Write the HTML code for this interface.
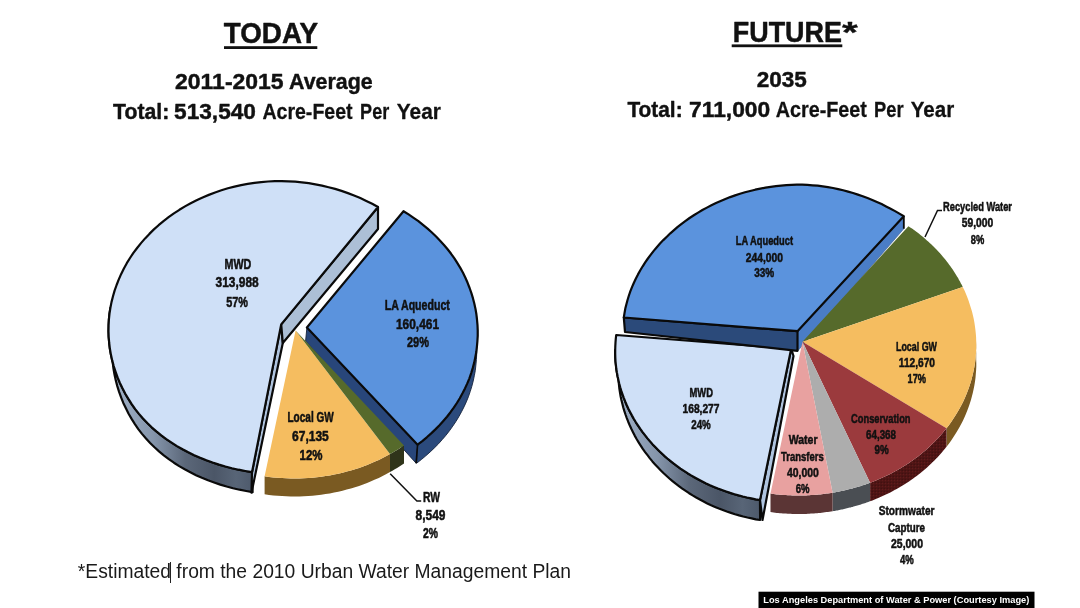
<!DOCTYPE html>
<html><head><meta charset="utf-8"><title>LA Water Supply: Today vs Future</title>
<style>
html,body{margin:0;padding:0;background:#fff;}
body{width:1080px;height:608px;overflow:hidden;}
svg{display:block;font-family:"Liberation Sans",sans-serif;}
</style></head><body>
<svg width="1080" height="608" viewBox="0 0 1080 608">
<rect width="1080" height="608" fill="#fff"/>
<defs>
<linearGradient id="gw1" gradientUnits="userSpaceOnUse" x1="110" y1="0" x2="255" y2="0"><stop offset="0" stop-color="#a3b4ca"/><stop offset="0.3" stop-color="#8595ab"/><stop offset="0.52" stop-color="#5b6779"/><stop offset="0.72" stop-color="#4b5667"/><stop offset="0.87" stop-color="#586577"/><stop offset="1" stop-color="#4c586a"/></linearGradient>
<linearGradient id="gw2" gradientUnits="userSpaceOnUse" x1="612" y1="0" x2="762" y2="0"><stop offset="0" stop-color="#a3b4ca"/><stop offset="0.3" stop-color="#8595ab"/><stop offset="0.52" stop-color="#5b6779"/><stop offset="0.72" stop-color="#4b5667"/><stop offset="0.87" stop-color="#586577"/><stop offset="1" stop-color="#4c586a"/></linearGradient>
<pattern id="dots" width="3" height="3" patternUnits="userSpaceOnUse"><rect width="3" height="3" fill="#501515"/><rect x="0" y="0" width="1" height="1" fill="#601b1b"/><rect x="1.6" y="1.7" width="1.1" height="1.1" fill="#360c0c"/></pattern>
</defs>
<path d="M306.9 327.5 L417.6 444.7 L416.1 463.2 L305.6 341.0Z" fill="#28467a" stroke="#16243c" stroke-width="0.9" stroke-linejoin="round"/>
<path d="M264.6 476.3 L269.0 476.9 L273.3 477.4 L277.6 477.8 L282.0 478.1 L286.4 478.3 L290.7 478.5 L295.1 478.5 L299.5 478.4 L303.8 478.3 L308.2 478.0 L312.5 477.7 L316.9 477.3 L321.2 476.7 L325.5 476.1 L329.8 475.4 L334.1 474.6 L338.3 473.7 L342.5 472.7 L346.7 471.6 L350.9 470.5 L355.0 469.2 L359.1 467.9 L363.1 466.4 L367.1 464.9 L371.1 463.3 L375.0 461.6 L378.8 459.9 L382.6 458.0 L386.4 456.1 L390.0 454.1 L390.0 472.1 L386.4 474.1 L382.6 476.0 L378.8 477.9 L375.0 479.6 L371.1 481.3 L367.1 482.9 L363.1 484.4 L359.1 485.9 L355.0 487.2 L350.9 488.5 L346.7 489.6 L342.5 490.7 L338.3 491.7 L334.1 492.6 L329.8 493.4 L325.5 494.1 L321.2 494.7 L316.9 495.3 L312.5 495.7 L308.2 496.0 L303.8 496.3 L299.5 496.4 L295.1 496.5 L290.7 496.5 L286.4 496.3 L282.0 496.1 L277.6 495.8 L273.3 495.4 L269.0 494.9 L264.6 494.3Z" fill="#7a5a22"/>
<path d="M390.0 454.1 L392.4 452.7 L394.8 451.3 L397.1 449.9 L399.4 448.4 L401.7 446.9 L404.0 445.4 L404.0 463.4 L401.7 464.9 L399.4 466.4 L397.1 467.9 L394.8 469.3 L392.4 470.7 L390.0 472.1Z" fill="#2f341a"/>
<path d="M295.6 330.6 L264.6 476.3 L269.0 476.9 L273.3 477.4 L277.6 477.8 L282.0 478.1 L286.4 478.3 L290.7 478.5 L295.1 478.5 L299.5 478.4 L303.8 478.3 L308.2 478.0 L312.5 477.7 L316.9 477.3 L321.2 476.7 L325.5 476.1 L329.8 475.4 L334.1 474.6 L338.3 473.7 L342.5 472.7 L346.7 471.6 L350.9 470.5 L355.0 469.2 L359.1 467.9 L363.1 466.4 L367.1 464.9 L371.1 463.3 L375.0 461.6 L378.8 459.9 L382.6 458.0 L386.4 456.1 L390.0 454.1Z" fill="#f5bd60"/>
<path d="M295.6 330.6 L390.0 454.1 L392.4 452.7 L394.8 451.3 L397.1 449.9 L399.4 448.4 L401.7 446.9 L404.0 445.4Z" fill="#566a2b"/>
<path d="M476.4 314.3 L477.0 319.7 L477.5 325.1 L477.7 330.4 L477.7 335.8 L477.4 341.2 L476.9 346.6 L476.3 352.0 L475.3 357.3 L474.2 362.6 L472.8 367.9 L471.2 373.1 L469.4 378.3 L467.3 383.4 L465.0 388.4 L462.5 393.3 L459.8 398.2 L456.9 403.0 L453.8 407.6 L450.5 412.2 L447.0 416.7 L443.3 421.0 L439.5 425.3 L435.4 429.4 L431.2 433.4 L426.8 437.3 L422.3 441.1 L417.6 444.7 L416.6 463.2 L421.3 459.6 L425.8 455.8 L430.2 451.9 L434.4 447.9 L438.5 443.8 L442.3 439.5 L446.0 435.2 L449.5 430.7 L452.8 426.1 L455.9 421.5 L458.8 416.7 L461.5 411.8 L464.0 406.9 L466.3 401.9 L468.4 396.8 L470.2 391.6 L471.8 386.4 L473.2 381.1 L474.3 375.8 L475.3 370.5 L475.9 365.1 L476.4 359.7 L476.7 354.3 L476.7 348.9 L476.5 343.6 L476.0 338.2 L475.4 332.8Z" fill="#2b4a7c" stroke="#16243c" stroke-width="0.9" stroke-linejoin="round"/>
<path d="M417.6 444.7 l-1.5 18.5" stroke="#0a0a0a" stroke-width="1.6" fill="none"/>
<path d="M306.9 327.5 L403.5 211.2 L408.6 214.4 L413.6 217.8 L418.4 221.2 L423.0 224.9 L427.6 228.6 L431.9 232.5 L436.1 236.5 L440.1 240.7 L444.0 245.0 L447.6 249.3 L451.1 253.8 L454.4 258.4 L457.4 263.2 L460.3 267.9 L463.0 272.8 L465.4 277.8 L467.6 282.8 L469.6 288.0 L471.4 293.1 L473.0 298.4 L474.3 303.6 L475.5 309.0 L476.4 314.3 L477.0 319.7 L477.5 325.1 L477.7 330.4 L477.7 335.8 L477.4 341.2 L476.9 346.6 L476.3 352.0 L475.3 357.3 L474.2 362.6 L472.8 367.9 L471.2 373.1 L469.4 378.3 L467.3 383.4 L465.0 388.4 L462.5 393.3 L459.8 398.2 L456.9 403.0 L453.8 407.6 L450.5 412.2 L447.0 416.7 L443.3 421.0 L439.5 425.3 L435.4 429.4 L431.2 433.4 L426.8 437.3 L422.3 441.1 L417.6 444.7Z" fill="#5b93dd" stroke="#0a0a0a" stroke-width="2.2" stroke-linejoin="round"/>
<path d="M110.4 307.8 L109.5 313.7 L108.9 319.5 L108.6 325.4 L108.5 331.3 L108.7 337.1 L109.2 343.0 L109.9 348.8 L110.9 354.6 L112.2 360.4 L113.7 366.1 L115.6 371.8 L117.6 377.4 L119.9 382.9 L122.5 388.3 L125.3 393.7 L128.4 398.9 L131.7 404.1 L135.2 409.1 L139.0 413.9 L143.0 418.5 L147.3 423.0 L151.7 427.3 L156.4 431.4 L161.3 435.4 L166.3 439.2 L171.6 442.7 L177.0 446.1 L182.6 449.3 L188.3 452.3 L194.2 455.2 L200.2 457.8 L206.4 460.3 L212.6 462.5 L219.0 464.6 L225.4 466.5 L232.0 468.2 L238.6 469.7 L245.3 471.0 L252.0 472.2 L252.6 492.2 L246.1 491.0 L239.5 489.7 L233.0 488.2 L226.6 486.5 L220.3 484.6 L214.1 482.5 L208.0 480.3 L201.9 477.8 L196.0 475.2 L190.3 472.3 L184.7 469.3 L179.2 466.1 L173.9 462.7 L168.8 459.2 L163.8 455.4 L159.0 451.4 L154.5 447.3 L150.1 443.0 L146.0 438.5 L142.0 433.9 L138.3 429.1 L134.9 424.1 L131.6 418.9 L128.6 413.7 L125.9 408.3 L123.3 402.9 L121.1 397.4 L119.1 391.8 L117.3 386.1 L115.8 380.4 L114.5 374.6 L113.5 368.8 L112.8 363.0 L112.4 357.1 L112.2 351.3 L112.2 345.4 L112.6 339.5 L113.2 333.7 L114.0 327.8Z" fill="url(#gw1)" stroke="#0a0a0a" stroke-width="2.2" stroke-linejoin="round"/>
<path d="M281.2 324.4 L282.8 343.0 L251.5 492.7 L252.0 472.2Z" fill="#afc4df" stroke="#0a0a0a" stroke-width="2.2" stroke-linejoin="round"/>
<path d="M281.2 324.4 L378.0 207.0 L378.0 229.0 L282.8 343.0Z" fill="#acbfd6" stroke="#0a0a0a" stroke-width="2.2" stroke-linejoin="round"/>
<path d="M281.2 324.4 L378.0 207.0 L372.2 203.8 L366.3 200.9 L360.3 198.1 L354.1 195.5 L347.9 193.1 L341.5 190.9 L335.1 188.9 L328.6 187.2 L322.0 185.6 L315.4 184.3 L308.7 183.2 L301.9 182.3 L295.2 181.7 L288.4 181.3 L281.6 181.1 L274.8 181.2 L268.0 181.5 L261.2 182.1 L254.5 182.8 L247.7 183.9 L241.1 185.1 L234.5 186.6 L227.9 188.3 L221.4 190.3 L215.1 192.5 L208.8 194.9 L202.6 197.4 L196.6 200.2 L190.7 203.2 L185.0 206.4 L179.4 209.8 L173.9 213.4 L168.6 217.2 L163.5 221.1 L158.6 225.2 L153.9 229.4 L149.4 233.9 L145.1 238.4 L141.0 243.1 L137.1 248.0 L133.4 252.9 L130.0 258.0 L126.8 263.2 L123.9 268.5 L121.2 273.9 L118.8 279.4 L116.6 285.0 L114.6 290.6 L113.0 296.3 L111.5 302.1 L110.4 307.8 L109.5 313.7 L108.9 319.5 L108.6 325.4 L108.5 331.3 L108.7 337.1 L109.2 343.0 L109.9 348.8 L110.9 354.6 L112.2 360.4 L113.7 366.1 L115.6 371.8 L117.6 377.4 L119.9 382.9 L122.5 388.3 L125.3 393.7 L128.4 398.9 L131.7 404.1 L135.2 409.1 L139.0 413.9 L143.0 418.5 L147.3 423.0 L151.7 427.3 L156.4 431.4 L161.3 435.4 L166.3 439.2 L171.6 442.7 L177.0 446.1 L182.6 449.3 L188.3 452.3 L194.2 455.2 L200.2 457.8 L206.4 460.3 L212.6 462.5 L219.0 464.6 L225.4 466.5 L232.0 468.2 L238.6 469.7 L245.3 471.0 L252.0 472.2Z" fill="#cfe0f7" stroke="#0a0a0a" stroke-width="2.2" stroke-linejoin="round"/>
<path d="M390.2 473.7 L416.9 501 L421.2 501" fill="none" stroke="#111" stroke-width="1.5"/>
<path d="M797.5 331.2 L903.8 216.2 L903.8 228.8 L797.5 351.2Z" fill="#4a7dc6" stroke="#35588e" stroke-width="0.6"/>
<path d="M976.2 340.9 L976.3 344.6 L976.3 348.3 L976.1 351.9 L975.8 355.6 L975.5 359.3 L975.0 363.0 L974.4 366.7 L973.7 370.3 L972.9 374.0 L972.0 377.6 L971.0 381.2 L969.9 384.7 L968.7 388.3 L967.4 391.8 L966.0 395.3 L964.5 398.8 L962.9 402.2 L961.2 405.6 L959.3 409.0 L957.4 412.3 L955.4 415.6 L953.3 418.8 L951.2 422.0 L948.9 425.2 L946.5 428.3 L946.5 446.8 L948.9 443.7 L951.2 440.5 L953.3 437.3 L955.4 434.1 L957.4 430.8 L959.3 427.5 L961.2 424.1 L962.9 420.7 L964.5 417.3 L966.0 413.8 L967.4 410.3 L968.7 406.8 L969.9 403.2 L971.0 399.7 L972.0 396.1 L972.9 392.5 L973.7 388.8 L974.4 385.2 L975.0 381.5 L975.5 377.8 L975.8 374.1 L976.1 370.4 L976.3 366.8 L976.3 363.1 L976.2 359.4Z" fill="#7a5a22"/>
<path d="M946.5 428.3 L945.1 430.1 L943.6 431.8 L942.2 433.6 L940.7 435.3 L939.1 437.0 L937.6 438.7 L936.0 440.3 L934.4 442.0 L932.7 443.6 L931.0 445.2 L929.3 446.8 L927.6 448.4 L925.9 449.9 L924.1 451.5 L922.3 453.0 L920.5 454.5 L918.6 455.9 L916.7 457.4 L914.8 458.8 L912.9 460.2 L911.0 461.5 L909.0 462.9 L907.0 464.2 L905.0 465.5 L903.0 466.8 L900.9 468.0 L898.8 469.2 L896.7 470.4 L894.6 471.6 L892.5 472.7 L890.3 473.9 L888.1 475.0 L885.9 476.0 L883.7 477.1 L881.5 478.1 L879.3 479.1 L877.0 480.0 L874.7 481.0 L872.4 481.9 L870.1 482.7 L870.1 501.2 L872.4 500.4 L874.7 499.5 L877.0 498.5 L879.3 497.6 L881.5 496.6 L883.7 495.6 L885.9 494.5 L888.1 493.5 L890.3 492.4 L892.5 491.2 L894.6 490.1 L896.7 488.9 L898.8 487.7 L900.9 486.5 L903.0 485.3 L905.0 484.0 L907.0 482.7 L909.0 481.4 L911.0 480.0 L912.9 478.7 L914.8 477.3 L916.7 475.9 L918.6 474.4 L920.5 473.0 L922.3 471.5 L924.1 470.0 L925.9 468.4 L927.6 466.9 L929.3 465.3 L931.0 463.7 L932.7 462.1 L934.4 460.5 L936.0 458.8 L937.6 457.2 L939.1 455.5 L940.7 453.8 L942.2 452.1 L943.6 450.3 L945.1 448.6 L946.5 446.8Z" fill="url(#dots)"/>
<path d="M870.1 482.7 L869.2 483.1 L868.3 483.4 L867.4 483.7 L866.5 484.1 L865.6 484.4 L864.7 484.7 L863.8 485.0 L862.8 485.3 L861.9 485.6 L861.0 485.9 L860.1 486.2 L859.1 486.5 L858.2 486.8 L857.3 487.0 L856.4 487.3 L855.4 487.6 L854.5 487.8 L853.5 488.1 L852.6 488.4 L851.7 488.6 L850.7 488.9 L849.8 489.1 L848.8 489.3 L847.9 489.6 L846.9 489.8 L846.0 490.0 L845.0 490.3 L844.1 490.5 L843.1 490.7 L842.2 490.9 L841.2 491.1 L840.3 491.3 L839.3 491.5 L838.3 491.7 L837.4 491.9 L836.4 492.0 L835.5 492.2 L834.5 492.4 L833.5 492.6 L832.6 492.7 L832.6 511.2 L833.5 511.1 L834.5 510.9 L835.5 510.7 L836.4 510.5 L837.4 510.4 L838.3 510.2 L839.3 510.0 L840.3 509.8 L841.2 509.6 L842.2 509.4 L843.1 509.2 L844.1 509.0 L845.0 508.8 L846.0 508.5 L846.9 508.3 L847.9 508.1 L848.8 507.8 L849.8 507.6 L850.7 507.4 L851.7 507.1 L852.6 506.9 L853.5 506.6 L854.5 506.3 L855.4 506.1 L856.4 505.8 L857.3 505.5 L858.2 505.3 L859.1 505.0 L860.1 504.7 L861.0 504.4 L861.9 504.1 L862.8 503.8 L863.8 503.5 L864.7 503.2 L865.6 502.9 L866.5 502.6 L867.4 502.2 L868.3 501.9 L869.2 501.6 L870.1 501.2Z" fill="#4a4e53"/>
<path d="M832.6 492.7 L831.0 493.0 L829.5 493.2 L827.9 493.4 L826.4 493.6 L824.9 493.8 L823.3 494.0 L821.8 494.2 L820.2 494.4 L818.7 494.5 L817.1 494.7 L815.6 494.8 L814.0 494.9 L812.5 495.0 L810.9 495.1 L809.4 495.2 L807.8 495.3 L806.3 495.4 L804.7 495.4 L803.1 495.5 L801.6 495.5 L800.0 495.5 L798.5 495.5 L796.9 495.5 L795.3 495.5 L793.8 495.4 L792.2 495.4 L790.7 495.3 L789.1 495.3 L787.6 495.2 L786.0 495.1 L784.5 495.0 L782.9 494.9 L781.3 494.8 L779.8 494.7 L778.2 494.5 L776.7 494.4 L775.2 494.2 L773.6 494.0 L772.1 493.8 L770.5 493.6 L770.5 512.1 L772.1 512.3 L773.6 512.5 L775.2 512.7 L776.7 512.9 L778.2 513.0 L779.8 513.2 L781.3 513.3 L782.9 513.4 L784.5 513.5 L786.0 513.6 L787.6 513.7 L789.1 513.8 L790.7 513.8 L792.2 513.9 L793.8 513.9 L795.3 514.0 L796.9 514.0 L798.5 514.0 L800.0 514.0 L801.6 514.0 L803.1 514.0 L804.7 513.9 L806.3 513.9 L807.8 513.8 L809.4 513.7 L810.9 513.6 L812.5 513.5 L814.0 513.4 L815.6 513.3 L817.1 513.2 L818.7 513.0 L820.2 512.9 L821.8 512.7 L823.3 512.5 L824.9 512.3 L826.4 512.1 L827.9 511.9 L829.5 511.7 L831.0 511.5 L832.6 511.2Z" fill="#5b3535"/>
<path d="M802.5 341.7 L908.4 226.2 L910.2 227.4 L912.0 228.6 L913.7 229.8 L915.4 231.1 L917.1 232.3 L918.8 233.6 L920.5 235.0 L922.1 236.3 L923.7 237.6 L925.3 239.0 L926.9 240.4 L928.5 241.8 L930.0 243.2 L931.5 244.6 L933.0 246.1 L934.5 247.6 L936.0 249.0 L937.4 250.5 L938.8 252.0 L940.2 253.6 L941.5 255.1 L942.9 256.7 L944.2 258.2 L945.5 259.8 L946.8 261.4 L948.0 263.0 L949.2 264.7 L950.4 266.3 L951.6 268.0 L952.7 269.6 L953.8 271.3 L954.9 273.0 L956.0 274.7 L957.0 276.4 L958.1 278.1 L959.0 279.9 L960.0 281.6 L960.9 283.4 L961.9 285.1 L962.7 286.9Z" fill="#566a2b"/>
<path d="M802.5 341.7 L962.7 286.9 L964.4 290.3 L965.9 293.8 L967.3 297.3 L968.6 300.8 L969.8 304.4 L970.9 308.0 L972.0 311.6 L972.9 315.2 L973.7 318.8 L974.4 322.5 L974.9 326.1 L975.4 329.8 L975.8 333.5 L976.1 337.2 L976.2 340.9 L976.3 344.6 L976.3 348.3 L976.1 351.9 L975.8 355.6 L975.5 359.3 L975.0 363.0 L974.4 366.7 L973.7 370.3 L972.9 374.0 L972.0 377.6 L971.0 381.2 L969.9 384.7 L968.7 388.3 L967.4 391.8 L966.0 395.3 L964.5 398.8 L962.9 402.2 L961.2 405.6 L959.3 409.0 L957.4 412.3 L955.4 415.6 L953.3 418.8 L951.2 422.0 L948.9 425.2 L946.5 428.3Z" fill="#f5bd60"/>
<path d="M802.5 341.7 L946.5 428.3 L945.1 430.1 L943.6 431.8 L942.2 433.6 L940.7 435.3 L939.1 437.0 L937.6 438.7 L936.0 440.3 L934.4 442.0 L932.7 443.6 L931.0 445.2 L929.3 446.8 L927.6 448.4 L925.9 449.9 L924.1 451.5 L922.3 453.0 L920.5 454.5 L918.6 455.9 L916.7 457.4 L914.8 458.8 L912.9 460.2 L911.0 461.5 L909.0 462.9 L907.0 464.2 L905.0 465.5 L903.0 466.8 L900.9 468.0 L898.8 469.2 L896.7 470.4 L894.6 471.6 L892.5 472.7 L890.3 473.9 L888.1 475.0 L885.9 476.0 L883.7 477.1 L881.5 478.1 L879.3 479.1 L877.0 480.0 L874.7 481.0 L872.4 481.9 L870.1 482.7Z" fill="#9b3a3d"/>
<path d="M802.5 341.7 L870.1 482.7 L869.2 483.1 L868.3 483.4 L867.4 483.7 L866.5 484.1 L865.6 484.4 L864.7 484.7 L863.8 485.0 L862.8 485.3 L861.9 485.6 L861.0 485.9 L860.1 486.2 L859.1 486.5 L858.2 486.8 L857.3 487.0 L856.4 487.3 L855.4 487.6 L854.5 487.8 L853.5 488.1 L852.6 488.4 L851.7 488.6 L850.7 488.9 L849.8 489.1 L848.8 489.3 L847.9 489.6 L846.9 489.8 L846.0 490.0 L845.0 490.3 L844.1 490.5 L843.1 490.7 L842.2 490.9 L841.2 491.1 L840.3 491.3 L839.3 491.5 L838.3 491.7 L837.4 491.9 L836.4 492.0 L835.5 492.2 L834.5 492.4 L833.5 492.6 L832.6 492.7Z" fill="#adadad"/>
<path d="M802.5 341.7 L832.6 492.7 L831.0 493.0 L829.5 493.2 L827.9 493.4 L826.4 493.6 L824.9 493.8 L823.3 494.0 L821.8 494.2 L820.2 494.4 L818.7 494.5 L817.1 494.7 L815.6 494.8 L814.0 494.9 L812.5 495.0 L810.9 495.1 L809.4 495.2 L807.8 495.3 L806.3 495.4 L804.7 495.4 L803.1 495.5 L801.6 495.5 L800.0 495.5 L798.5 495.5 L796.9 495.5 L795.3 495.5 L793.8 495.4 L792.2 495.4 L790.7 495.3 L789.1 495.3 L787.6 495.2 L786.0 495.1 L784.5 495.0 L782.9 494.9 L781.3 494.8 L779.8 494.7 L778.2 494.5 L776.7 494.4 L775.2 494.2 L773.6 494.0 L772.1 493.8 L770.5 493.6Z" fill="#e8a1a0"/>
<path d="M615.2 350.0 L615.2 353.8 L615.3 357.5 L615.5 361.3 L615.9 365.0 L616.3 368.8 L616.9 372.5 L617.6 376.2 L618.4 379.9 L619.2 383.6 L620.2 387.3 L621.3 390.9 L622.6 394.5 L623.9 398.1 L625.3 401.7 L626.8 405.2 L628.4 408.7 L630.2 412.2 L632.0 415.6 L633.9 419.0 L635.9 422.3 L638.1 425.6 L640.3 428.9 L642.6 432.1 L645.0 435.2 L647.5 438.4 L650.1 441.4 L652.7 444.4 L655.5 447.3 L658.4 450.2 L661.3 453.0 L664.3 455.8 L667.4 458.5 L670.6 461.1 L673.8 463.7 L677.1 466.1 L680.5 468.6 L684.0 470.9 L687.5 473.2 L691.1 475.4 L694.8 477.5 L698.5 479.5 L702.3 481.5 L706.1 483.4 L710.0 485.2 L714.0 486.9 L717.9 488.5 L722.0 490.0 L726.1 491.5 L730.2 492.9 L734.4 494.2 L738.6 495.4 L742.8 496.5 L747.0 497.5 L751.3 498.4 L755.7 499.3 L760.0 500.0 L760.1 520.0 L755.8 519.3 L751.6 518.4 L747.4 517.5 L743.2 516.5 L739.1 515.4 L735.0 514.2 L730.9 512.9 L726.8 511.5 L722.8 510.0 L718.9 508.5 L715.0 506.9 L711.1 505.2 L707.3 503.4 L703.6 501.5 L699.9 499.5 L696.2 497.5 L692.6 495.4 L689.1 493.2 L685.7 490.9 L682.3 488.6 L678.9 486.1 L675.7 483.7 L672.5 481.1 L669.4 478.5 L666.4 475.8 L663.4 473.0 L660.6 470.2 L657.8 467.3 L655.1 464.4 L652.4 461.4 L649.9 458.4 L647.5 455.2 L645.1 452.1 L642.8 448.9 L640.7 445.6 L638.6 442.3 L636.6 439.0 L634.7 435.6 L633.0 432.2 L631.3 428.7 L629.7 425.2 L628.2 421.7 L626.8 418.1 L625.5 414.5 L624.3 410.9 L623.2 407.3 L622.3 403.6 L621.4 399.9 L620.6 396.2 L620.0 392.5 L619.4 388.8 L619.0 385.0 L618.6 381.3 L618.4 377.5 L618.3 373.8 L618.3 370.0Z" fill="url(#gw2)" stroke="#0a0a0a" stroke-width="2.2" stroke-linejoin="round"/>
<path d="M791.2 348.8 L793.5 356.0 L762.5 520.0 L760.0 500.0Z" fill="#afc4df" stroke="#0a0a0a" stroke-width="2.2" stroke-linejoin="round"/>
<path d="M791.2 348.8 L616.2 335.0 L615.8 338.7 L615.5 342.5 L615.3 346.2 L615.2 350.0 L615.2 353.8 L615.3 357.5 L615.5 361.3 L615.9 365.0 L616.3 368.8 L616.9 372.5 L617.6 376.2 L618.4 379.9 L619.2 383.6 L620.2 387.3 L621.3 390.9 L622.6 394.5 L623.9 398.1 L625.3 401.7 L626.8 405.2 L628.4 408.7 L630.2 412.2 L632.0 415.6 L633.9 419.0 L635.9 422.3 L638.1 425.6 L640.3 428.9 L642.6 432.1 L645.0 435.2 L647.5 438.4 L650.1 441.4 L652.7 444.4 L655.5 447.3 L658.4 450.2 L661.3 453.0 L664.3 455.8 L667.4 458.5 L670.6 461.1 L673.8 463.7 L677.1 466.1 L680.5 468.6 L684.0 470.9 L687.5 473.2 L691.1 475.4 L694.8 477.5 L698.5 479.5 L702.3 481.5 L706.1 483.4 L710.0 485.2 L714.0 486.9 L717.9 488.5 L722.0 490.0 L726.1 491.5 L730.2 492.9 L734.4 494.2 L738.6 495.4 L742.8 496.5 L747.0 497.5 L751.3 498.4 L755.7 499.3 L760.0 500.0Z" fill="#cfe0f7" stroke="#0a0a0a" stroke-width="2.2" stroke-linejoin="round"/>
<path d="M903.8 216.2 v12.5" stroke="#0a0a0a" stroke-width="1.8" fill="none"/>
<path d="M623.8 317.5 L797.5 331.2 L797.5 350.8 L625.0 332.0Z" fill="#2b4a7a" stroke="#0a0a0a" stroke-width="2.2" stroke-linejoin="round"/>
<path d="M797.5 331.2 L623.8 317.5 L624.5 313.1 L625.3 308.6 L626.4 304.2 L627.6 299.8 L628.9 295.5 L630.4 291.2 L632.1 286.9 L633.9 282.7 L635.9 278.5 L638.0 274.4 L640.3 270.3 L642.7 266.3 L645.2 262.4 L647.9 258.5 L650.8 254.7 L653.7 250.9 L656.8 247.2 L660.0 243.6 L663.3 240.1 L666.8 236.7 L670.3 233.3 L674.0 230.1 L677.7 226.9 L681.6 223.9 L685.6 220.9 L689.6 218.0 L693.8 215.3 L698.1 212.6 L702.4 210.0 L706.9 207.6 L711.4 205.3 L716.0 203.1 L720.7 201.0 L725.4 199.0 L730.2 197.1 L735.1 195.4 L740.0 193.8 L745.0 192.3 L750.1 191.0 L755.2 189.7 L760.3 188.6 L765.5 187.7 L770.7 186.8 L775.9 186.1 L781.1 185.6 L786.4 185.1 L791.6 184.8 L796.9 184.7 L802.1 184.7 L807.3 184.9 L812.5 185.3 L817.7 185.7 L822.8 186.4 L827.9 187.1 L833.0 188.0 L838.1 189.1 L843.1 190.3 L848.1 191.6 L853.0 193.0 L857.9 194.6 L862.7 196.2 L867.5 198.1 L872.3 200.0 L876.9 202.0 L881.6 204.1 L886.1 206.4 L890.6 208.7 L895.1 211.1 L899.4 213.6 L903.8 216.2Z" fill="#5b93dd" stroke="#0a0a0a" stroke-width="2.2" stroke-linejoin="round"/>
<path d="M925 237 L937.5 210.5 L942 210.5" fill="none" stroke="#111" stroke-width="1.5"/>
<text x="237.9" y="269.1" font-size="15.0" font-weight="bold" text-anchor="middle" fill="#111" textLength="26.8" lengthAdjust="spacingAndGlyphs" stroke="#111" stroke-width="0.55" stroke-linejoin="round">MWD</text>
<text x="237.1" y="287.4" font-size="15.0" font-weight="bold" text-anchor="middle" fill="#111" textLength="43.2" lengthAdjust="spacingAndGlyphs" stroke="#111" stroke-width="0.55" stroke-linejoin="round">313,988</text>
<text x="237.1" y="306.6" font-size="15.0" font-weight="bold" text-anchor="middle" fill="#111" textLength="21.8" lengthAdjust="spacingAndGlyphs" stroke="#111" stroke-width="0.55" stroke-linejoin="round">57%</text>
<text x="417.3" y="310.4" font-size="15.0" font-weight="bold" text-anchor="middle" fill="#111" textLength="65.2" lengthAdjust="spacingAndGlyphs" stroke="#111" stroke-width="0.55" stroke-linejoin="round">LA Aqueduct</text>
<text x="417.5" y="329.1" font-size="15.0" font-weight="bold" text-anchor="middle" fill="#111" textLength="43.0" lengthAdjust="spacingAndGlyphs" stroke="#111" stroke-width="0.55" stroke-linejoin="round">160,461</text>
<text x="418.0" y="347.4" font-size="15.0" font-weight="bold" text-anchor="middle" fill="#111" textLength="22.0" lengthAdjust="spacingAndGlyphs" stroke="#111" stroke-width="0.55" stroke-linejoin="round">29%</text>
<text x="310.6" y="422.4" font-size="15.0" font-weight="bold" text-anchor="middle" fill="#111" textLength="46.2" lengthAdjust="spacingAndGlyphs" stroke="#111" stroke-width="0.55" stroke-linejoin="round">Local GW</text>
<text x="310.4" y="440.9" font-size="15.0" font-weight="bold" text-anchor="middle" fill="#111" textLength="36.8" lengthAdjust="spacingAndGlyphs" stroke="#111" stroke-width="0.55" stroke-linejoin="round">67,135</text>
<text x="311.0" y="459.6" font-size="15.0" font-weight="bold" text-anchor="middle" fill="#111" textLength="23.0" lengthAdjust="spacingAndGlyphs" stroke="#111" stroke-width="0.55" stroke-linejoin="round">12%</text>
<text x="431.5" y="502.1" font-size="15.0" font-weight="bold" text-anchor="middle" fill="#111" textLength="17.0" lengthAdjust="spacingAndGlyphs" stroke="#111" stroke-width="0.55" stroke-linejoin="round">RW</text>
<text x="430.5" y="520.4" font-size="15.0" font-weight="bold" text-anchor="middle" fill="#111" textLength="30.0" lengthAdjust="spacingAndGlyphs" stroke="#111" stroke-width="0.55" stroke-linejoin="round">8,549</text>
<text x="430.5" y="538.4" font-size="15.0" font-weight="bold" text-anchor="middle" fill="#111" textLength="15.0" lengthAdjust="spacingAndGlyphs" stroke="#111" stroke-width="0.55" stroke-linejoin="round">2%</text>
<text x="764.4" y="244.8" font-size="13.5" font-weight="bold" text-anchor="middle" fill="#111" textLength="57.2" lengthAdjust="spacingAndGlyphs" stroke="#111" stroke-width="0.55" stroke-linejoin="round">LA Aqueduct</text>
<text x="764.4" y="261.6" font-size="13.5" font-weight="bold" text-anchor="middle" fill="#111" textLength="37.2" lengthAdjust="spacingAndGlyphs" stroke="#111" stroke-width="0.55" stroke-linejoin="round">244,000</text>
<text x="764.2" y="277.3" font-size="13.5" font-weight="bold" text-anchor="middle" fill="#111" textLength="20.0" lengthAdjust="spacingAndGlyphs" stroke="#111" stroke-width="0.55" stroke-linejoin="round">33%</text>
<text x="701.2" y="396.8" font-size="13.5" font-weight="bold" text-anchor="middle" fill="#111" textLength="23.5" lengthAdjust="spacingAndGlyphs" stroke="#111" stroke-width="0.55" stroke-linejoin="round">MWD</text>
<text x="701.0" y="412.8" font-size="13.5" font-weight="bold" text-anchor="middle" fill="#111" textLength="37.0" lengthAdjust="spacingAndGlyphs" stroke="#111" stroke-width="0.55" stroke-linejoin="round">168,277</text>
<text x="701.0" y="429.1" font-size="13.5" font-weight="bold" text-anchor="middle" fill="#111" textLength="19.5" lengthAdjust="spacingAndGlyphs" stroke="#111" stroke-width="0.55" stroke-linejoin="round">24%</text>
<text x="977.5" y="210.8" font-size="13.5" font-weight="bold" text-anchor="middle" fill="#111" textLength="69.0" lengthAdjust="spacingAndGlyphs" stroke="#111" stroke-width="0.55" stroke-linejoin="round">Recycled Water</text>
<text x="977.5" y="227.3" font-size="13.5" font-weight="bold" text-anchor="middle" fill="#111" textLength="31.5" lengthAdjust="spacingAndGlyphs" stroke="#111" stroke-width="0.55" stroke-linejoin="round">59,000</text>
<text x="977.5" y="243.8" font-size="13.5" font-weight="bold" text-anchor="middle" fill="#111" textLength="13.5" lengthAdjust="spacingAndGlyphs" stroke="#111" stroke-width="0.55" stroke-linejoin="round">8%</text>
<text x="916.5" y="350.8" font-size="13.5" font-weight="bold" text-anchor="middle" fill="#111" textLength="41.0" lengthAdjust="spacingAndGlyphs" stroke="#111" stroke-width="0.55" stroke-linejoin="round">Local GW</text>
<text x="916.9" y="367.3" font-size="13.5" font-weight="bold" text-anchor="middle" fill="#111" textLength="36.2" lengthAdjust="spacingAndGlyphs" stroke="#111" stroke-width="0.55" stroke-linejoin="round">112,670</text>
<text x="916.8" y="382.8" font-size="13.5" font-weight="bold" text-anchor="middle" fill="#111" textLength="18.5" lengthAdjust="spacingAndGlyphs" stroke="#111" stroke-width="0.55" stroke-linejoin="round">17%</text>
<text x="880.8" y="422.8" font-size="13.5" font-weight="bold" text-anchor="middle" fill="#111" textLength="59.5" lengthAdjust="spacingAndGlyphs" stroke="#111" stroke-width="0.55" stroke-linejoin="round">Conservation</text>
<text x="881.0" y="438.6" font-size="13.5" font-weight="bold" text-anchor="middle" fill="#111" textLength="30.0" lengthAdjust="spacingAndGlyphs" stroke="#111" stroke-width="0.55" stroke-linejoin="round">64,368</text>
<text x="881.6" y="453.8" font-size="13.5" font-weight="bold" text-anchor="middle" fill="#111" textLength="14.2" lengthAdjust="spacingAndGlyphs" stroke="#111" stroke-width="0.55" stroke-linejoin="round">9%</text>
<text x="803.1" y="444.3" font-size="13.5" font-weight="bold" text-anchor="middle" fill="#111" textLength="28.8" lengthAdjust="spacingAndGlyphs" stroke="#111" stroke-width="0.55" stroke-linejoin="round">Water</text>
<text x="802.4" y="460.6" font-size="13.5" font-weight="bold" text-anchor="middle" fill="#111" textLength="42.8" lengthAdjust="spacingAndGlyphs" stroke="#111" stroke-width="0.55" stroke-linejoin="round">Transfers</text>
<text x="802.9" y="476.6" font-size="13.5" font-weight="bold" text-anchor="middle" fill="#111" textLength="31.8" lengthAdjust="spacingAndGlyphs" stroke="#111" stroke-width="0.55" stroke-linejoin="round">40,000</text>
<text x="802.6" y="492.8" font-size="13.5" font-weight="bold" text-anchor="middle" fill="#111" textLength="13.8" lengthAdjust="spacingAndGlyphs" stroke="#111" stroke-width="0.55" stroke-linejoin="round">6%</text>
<text x="906.6" y="515.3" font-size="13.5" font-weight="bold" text-anchor="middle" fill="#111" textLength="55.8" lengthAdjust="spacingAndGlyphs" stroke="#111" stroke-width="0.55" stroke-linejoin="round">Stormwater</text>
<text x="906.5" y="531.8" font-size="13.5" font-weight="bold" text-anchor="middle" fill="#111" textLength="37.0" lengthAdjust="spacingAndGlyphs" stroke="#111" stroke-width="0.55" stroke-linejoin="round">Capture</text>
<text x="907.0" y="547.8" font-size="13.5" font-weight="bold" text-anchor="middle" fill="#111" textLength="32.0" lengthAdjust="spacingAndGlyphs" stroke="#111" stroke-width="0.55" stroke-linejoin="round">25,000</text>
<text x="906.9" y="563.8" font-size="13.5" font-weight="bold" text-anchor="middle" fill="#111" textLength="13.8" lengthAdjust="spacingAndGlyphs" stroke="#111" stroke-width="0.55" stroke-linejoin="round">4%</text>
<text x="223.8" y="43.3" font-size="29.5" font-weight="bold" text-anchor="start" fill="#111" textLength="94.1" lengthAdjust="spacingAndGlyphs" stroke="#111" stroke-width="0.50" stroke-linejoin="round">TODAY</text>
<rect x="224" y="46.2" width="93.3" height="2.8" fill="#111"/>
<text x="175.1" y="89.0" font-size="22.0" font-weight="bold" text-anchor="start" fill="#111" textLength="108.5" lengthAdjust="spacingAndGlyphs" stroke="#111" stroke-width="0.45" stroke-linejoin="round">2011-2015</text>
<text x="289.1" y="89.0" font-size="22.0" font-weight="bold" text-anchor="start" fill="#111" textLength="83.5" lengthAdjust="spacingAndGlyphs" stroke="#111" stroke-width="0.45" stroke-linejoin="round">Average</text>
<text x="113.1" y="119.0" font-size="22.5" font-weight="bold" text-anchor="start" fill="#111" textLength="56.1" lengthAdjust="spacingAndGlyphs" stroke="#111" stroke-width="0.45" stroke-linejoin="round">Total:</text>
<text x="174.1" y="119.0" font-size="22.5" font-weight="bold" text-anchor="start" fill="#111" textLength="81.8" lengthAdjust="spacingAndGlyphs" stroke="#111" stroke-width="0.45" stroke-linejoin="round">513,540</text>
<text x="262.4" y="119.0" font-size="22.5" font-weight="bold" text-anchor="start" fill="#111" textLength="90.2" lengthAdjust="spacingAndGlyphs" stroke="#111" stroke-width="0.30" stroke-linejoin="round">Acre-Feet</text>
<text x="360.1" y="119.0" font-size="22.5" font-weight="bold" text-anchor="start" fill="#111" textLength="29.1" lengthAdjust="spacingAndGlyphs" stroke="#111" stroke-width="0.30" stroke-linejoin="round">Per</text>
<text x="396.8" y="119.0" font-size="22.5" font-weight="bold" text-anchor="start" fill="#111" textLength="44.1" lengthAdjust="spacingAndGlyphs" stroke="#111" stroke-width="0.30" stroke-linejoin="round">Year</text>
<text x="732.8" y="41.7" font-size="29.5" font-weight="bold" text-anchor="start" fill="#111" textLength="109.1" lengthAdjust="spacingAndGlyphs" stroke="#111" stroke-width="0.50" stroke-linejoin="round">FUTURE</text>
<text x="842.1" y="41.7" font-size="29.5" font-weight="bold" text-anchor="start" fill="#111" textLength="15.8" lengthAdjust="spacingAndGlyphs" stroke="#111" stroke-width="0.30" stroke-linejoin="round">*</text>
<rect x="731.7" y="44.4" width="110.6" height="2.8" fill="#111"/>
<text x="756.8" y="87.3" font-size="22.0" font-weight="bold" text-anchor="start" fill="#111" textLength="50.1" lengthAdjust="spacingAndGlyphs" stroke="#111" stroke-width="0.45" stroke-linejoin="round">2035</text>
<text x="627.4" y="117.3" font-size="22.5" font-weight="bold" text-anchor="start" fill="#111" textLength="55.2" lengthAdjust="spacingAndGlyphs" stroke="#111" stroke-width="0.45" stroke-linejoin="round">Total:</text>
<text x="689.1" y="117.3" font-size="22.5" font-weight="bold" text-anchor="start" fill="#111" textLength="81.1" lengthAdjust="spacingAndGlyphs" stroke="#111" stroke-width="0.45" stroke-linejoin="round">711,000</text>
<text x="775.8" y="117.3" font-size="22.5" font-weight="bold" text-anchor="start" fill="#111" textLength="91.1" lengthAdjust="spacingAndGlyphs" stroke="#111" stroke-width="0.30" stroke-linejoin="round">Acre-Feet</text>
<text x="874.1" y="117.3" font-size="22.5" font-weight="bold" text-anchor="start" fill="#111" textLength="29.5" lengthAdjust="spacingAndGlyphs" stroke="#111" stroke-width="0.30" stroke-linejoin="round">Per</text>
<text x="910.8" y="117.3" font-size="22.5" font-weight="bold" text-anchor="start" fill="#111" textLength="43.4" lengthAdjust="spacingAndGlyphs" stroke="#111" stroke-width="0.30" stroke-linejoin="round">Year</text>
<text x="77.8" y="577.8" font-size="20.0" font-weight="normal" text-anchor="start" fill="#1a1a1a" textLength="493.2" lengthAdjust="spacingAndGlyphs">*Estimated from the 2010 Urban Water Management Plan</text>
<rect x="170" y="562" width="1" height="21" fill="#222"/>
<rect x="758.5" y="591.7" width="276" height="16.3" fill="#000"/>
<text x="763.3" y="603.3" font-size="9.8" font-weight="bold" text-anchor="start" fill="#fff" textLength="266.0" lengthAdjust="spacingAndGlyphs">Los Angeles Department of Water &amp; Power (Courtesy Image)</text>
</svg>
</body></html>
